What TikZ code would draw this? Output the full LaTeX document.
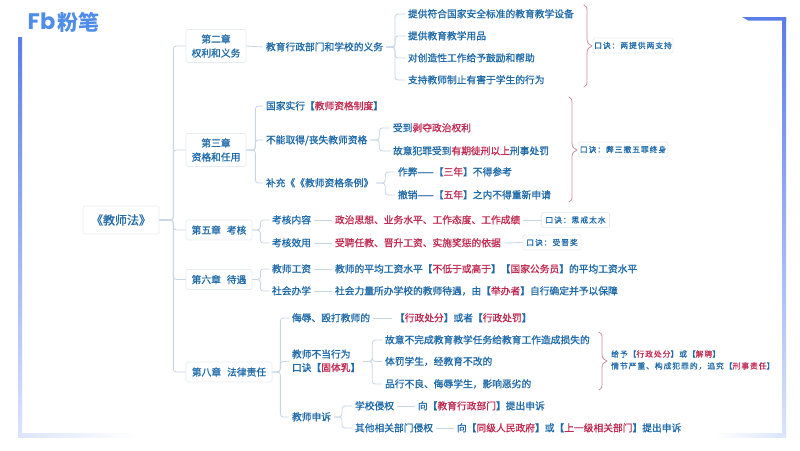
\documentclass[tikz,border=0pt]{standalone}
\usepackage{fontspec}
\setmainfont{Noto Sans CJK SC}
\newfontfamily\zhm[FakeBold=1]{Noto Sans CJK SC}
\newfontfamily\zhk[LetterSpace=12,FakeBold=0.7]{Noto Sans CJK SC}
\newfontfamily\logoF{Poppins}
\definecolor{bl}{HTML}{1F6AA8}
\definecolor{rd}{HTML}{C02A52}
\definecolor{ln}{HTML}{C6D6E4}
\definecolor{bx}{HTML}{E6ECF2}
\definecolor{br}{HTML}{CC8F9B}
\definecolor{lg}{HTML}{4F8DE8}
\definecolor{fa}{HTML}{5B7DE8}
\definecolor{fb}{HTML}{DAE4FC}
\newcommand\Rr[1]{\textcolor{rd}{#1}}
\tikzset{
 txt/.style={anchor=west,inner sep=0pt,outer xsep=3pt,text height=8.5pt,text depth=1.5pt,text=bl,font=\fontsize{9.75}{13}\zhm},
 chap/.style={draw=bx,fill=white,rounded corners=1.5pt,line width=.7pt,inner sep=0pt,align=center,text=bl,font=\fontsize{9.75}{14}\zhm},
 kou/.style={draw=bx,fill=white,rounded corners=1.5pt,line width=.7pt,inner sep=0pt,text=bl,font=\fontsize{7.8}{9}\zhk},
 small/.style={anchor=west,inner sep=0pt,text=bl,font=\fontsize{7.8}{9}\zhk},
 conn/.style={draw=ln,line width=.8pt,rounded corners=3pt},
 brace/.style={draw=br,line width=.8pt,line cap=round},
}
\newcommand\bracem[4]{% x, top, tip y, bottom (tip at x+5)
 \draw[brace] (#1-3,#2) .. controls (#1,#2+1) and (#1,#2+3) .. (#1,#2+7) -- (#1,#3-7) .. controls (#1,#3-3) and (#1+2,#3-1) .. (#1+5,#3) .. controls (#1+2,#3+1) and (#1,#3+3) .. (#1,#3+7) -- (#1,#4-7) .. controls (#1,#4-3) and (#1,#4-1) .. (#1-3,#4);}
\begin{document}
\begin{tikzpicture}[x=1pt,y=-1pt]
\useasboundingbox (0,0) rectangle (800,450);
\fill[white] (0,0) rectangle (800,450);
% frame
\shade[top color=fa,bottom color=fb] (18,37) rectangle (22,437);
\shade[left color=fb,right color=white] (18,433.5) rectangle (135,437);
\fill[fa] (742,17) -- (786,17) -- (786,20.5) -- (748,20.5) -- cycle;
\shade[top color=fa,bottom color=fb] (782.5,17) rectangle (786,437);
\shade[right color=fb,left color=white] (716,433.5) rectangle (786,437);
% logo
\node[inner sep=0pt,anchor=west,text=lg,font=\fontsize{22.5}{22}\logoF\bfseries] (fblogo) at (27.5,21.5) {Fb};
\node[inner sep=0pt,anchor=west,text=lg,font=\fontsize{21}{21}\selectfont\bfseries] (fen) at (57,22) {粉笔};
% root
\node[chap,minimum width=76pt,minimum height=28pt,font=\fontsize{12}{14}\zhm] (root) at (121,220) {《教师法》};
% chapters
\node[chap,minimum width=60pt,minimum height=33pt] (c2) at (216,46) {第二章\\权利和义务};
\node[chap,minimum width=60pt,minimum height=33pt] (c3) at (216,150) {第三章\\资格和任用};
\node[chap,minimum width=66pt,minimum height=20pt] (c5) at (219,230) {第五章\hspace{6pt}考核};
\node[chap,minimum width=66pt,minimum height=20pt] (c6) at (219,279.5) {第六章\hspace{6pt}待遇};
\node[chap,minimum width=86pt,minimum height=20pt] (c8) at (229,372) {第八章\hspace{6pt}法律责任};
\foreach \c in {c2,c3,c5,c6,c8} \draw[conn] (root.east) -- ++(14,0) |- (\c.west);
% chapter 2
\node[txt] (a0) at (263,47) {教育行政部门和学校的义务};
\draw[conn] (c2.east) -- (a0.west);
\node[txt] (a1) at (405,14) {提供符合国家安全标准的教育教学设备};
\node[txt] (a2) at (405,36) {提供教育教学用品};
\node[txt] (a3) at (405,58) {对创造性工作给予鼓励和帮助};
\node[txt] (a4) at (405,80) {支持教师制止有害于学生的行为};
\foreach \n in {a1,a2,a3,a4} \draw[conn] (a0.east) -- ++(9,0) |- (\n.west);
\bracem{587}{5}{46}{87}
\node[kou,minimum width=80pt,minimum height=15pt] (ka) at (633,45.5) {口诀：两提供两支持};
% chapter 3
\node[txt] (b1) at (263,106) {国家实行【\Rr{教师资格制度}】};
\node[txt] (b2) at (263,140) {不能取得/丧失教师资格};
\node[txt] (b3) at (263,183) {补充《《教师资格条例》};
\foreach \n in {b1,b2,b3} \draw[conn] (c3.east) -- ++(9,0) |- (\n.west);
\node[txt] (b21) at (390,128) {受到\Rr{剥夺政治权利}};
\node[txt] (b22) at (390,151) {故意犯罪受到\Rr{有期徒刑以上}刑事处罚};
\foreach \n in {b21,b22} \draw[conn] (b2.east) -- ++(9,0) |- (\n.west);
\node[txt] (b31) at (395,172) {作弊——【\Rr{三年}】不得参考};
\node[txt] (b32) at (395,195) {撤销——【\Rr{五年}】之内不得重新申请};
\foreach \n in {b31,b32} \draw[conn] (b3.east) -- ++(9,0) |- (\n.west);
\bracem{572}{97}{150}{202}
\node[kou,minimum width=90pt,minimum height=15pt] (kb) at (623,149.5) {口诀：弊三撤五罪终身};
% chapter 5
\node[txt] (d1) at (269,220) {考核内容};
\node[txt] (d2) at (269,243) {考核效用};
\foreach \n in {d1,d2} \draw[conn] (c5.east) -- ++(8,0) |- (\n.west);
\node[txt] (d11) at (332,220) {\Rr{政治思想、业务水平、工作态度、工作成绩}};
\node[txt] (d21) at (332,243) {\Rr{受聘任教、晋升工资、实施奖惩的依据}};
\draw[conn] (d1.east) -- (d11.west);
\draw[conn] (d2.east) -- (d21.west);
\node[kou,minimum width=68pt,minimum height=15pt] (kd) at (575.5,220) {口诀：思戒太水};
\node[kou,minimum width=58pt,minimum height=15pt] (ke) at (552,242.5) {口诀：受晋奖};
\draw[conn] (d11.east) -- (kd.west);
\draw[conn] (d21.east) -- (ke.west);
% chapter 6
\node[txt] (e1) at (269,269) {教师工资};
\node[txt] (e2) at (269,291) {社会办学};
\foreach \n in {e1,e2} \draw[conn] (c6.east) -- ++(8,0) |- (\n.west);
\node[txt] (e11) at (332,269) {教师的平均工资水平【\Rr{不低于或高于}】【\Rr{国家公务员}】的平均工资水平};
\node[txt] (e21) at (332,291) {社会力量所办学校的教师待遇，由【\Rr{举办者}】自行确定并予以保障};
\draw[conn] (e1.east) -- (e11.west);
\draw[conn] (e2.east) -- (e21.west);
% chapter 8
\node[txt] (f1) at (289,318) {侮辱、殴打教师的};
\node[txt,align=left,text height=21pt,text depth=1.5pt,font=\fontsize{9.75}{13.5}\zhm] (f2) at (289,361.5) {教师不当行为\\口诀【\Rr{固体乳}】};
\node[txt] (f3) at (289,417) {教师申诉};
\foreach \n in {f1,f2,f3} \draw[conn] (c8.east) -- ++(8,0) |- (\n.west);
\node[txt] (f11) at (392,318) {【\Rr{行政处分}】或者【\Rr{行政处罚}】};
\draw[conn] (f1.east) -- (f11.west);
\node[txt] (f21) at (382,340) {故意不完成教育教学任务给教育工作造成损失的};
\node[txt] (f22) at (382,361.5) {体罚学生，经教育不改的};
\node[txt] (f23) at (382,384) {品行不良、侮辱学生，影响恶劣的};
\foreach \n in {f21,f22,f23} \draw[conn] (f2.east) -- ++(9,0) |- (\n.west);
\bracem{602}{332}{361}{390}
\node[small] (n1) at (611,354) {给予【\Rr{行政处分}】或【\Rr{解聘}】};
\node[small] (n2) at (611,366) {情节严重、构成犯罪的，追究【\Rr{刑事责任}】};
\node[txt] (f31) at (352,406) {学校侵权};
\node[txt] (f32) at (352,428) {其他相关部门侵权};
\foreach \n in {f31,f32} \draw[conn] (f3.east) -- ++(8,0) |- (\n.west);
\node[txt] (f311) at (415,406) {向【\Rr{教育行政部门}】提出申诉};
\node[txt] (f321) at (454,428) {向【\Rr{同级人民政府}】或【\Rr{上一级相关部门}】提出申诉};
\draw[conn] (f31.east) -- (f311.west);
\draw[conn] (f32.east) -- (f321.west);
\end{tikzpicture}
\end{document}
